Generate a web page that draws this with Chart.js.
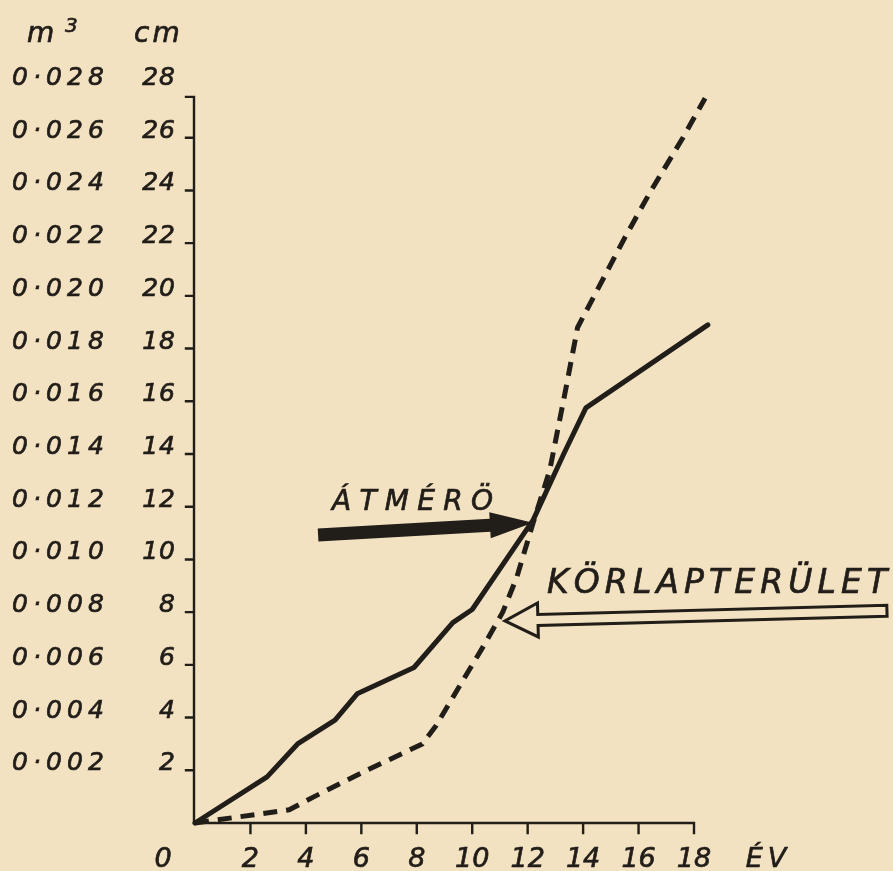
<!DOCTYPE html>
<html>
<head>
<meta charset="utf-8">
<script src="https://cdn.jsdelivr.net/npm/chart.js@4.4.1/dist/chart.umd.min.js"></script>
<style>
    html, body { margin: 0; padding: 0; background: #f3e2c1; }
    canvas { display: block; }
</style>
</head>
<body>
<canvas id="chart" width="893" height="871"></canvas>
<script>
// Átmérő (cm) by age (év)
const diamYears = [0, 2.6, 3.7, 5.05, 5.85, 7.9, 9.3, 10.0, 12.2, 13.3, 14.1, 18.5];
const diamCm    = [0, 1.75, 3.0, 3.9, 4.9, 5.9, 7.6, 8.1, 11.5, 14.0, 15.75, 18.9];

// Körlapterület (m3) by age (év)
const areaYears = [0, 3.4, 4.3, 6.2, 8.2, 8.7, 9.6, 10.4, 11.1, 11.6, 12.2, 12.8, 13.4, 13.8, 14.5, 15.5, 16.4, 17.6, 18.4];
const areaM3    = [0, 0.0005, 0.0010, 0.0020, 0.0030, 0.0037, 0.0053, 0.0067, 0.0080, 0.0093, 0.0114, 0.0134, 0.0166, 0.0188, 0.0202, 0.0222, 0.0239, 0.0260, 0.0275];

const xTicks  = [2, 4, 6, 8, 10, 12, 14, 16, 18];
const cmTicks = [2, 4, 6, 8, 10, 12, 14, 16, 18, 20, 22, 24, 26, 28];
const m3Ticks = ['0·002', '0·004', '0·006', '0·008', '0·010', '0·012', '0·014',
                 '0·016', '0·018', '0·020', '0·022', '0·024', '0·026', '0·028'];

const INK = '#211d19';
const PAPER = '#f3e2c1';
const FONT = '"DejaVu Sans", sans-serif';
const Y_AXIS_TOP = 27.55;

// draws text letter by letter so the spacing can be stretched like the hand lettering
function spacedText(ctx, text, x, y, opts) {
    const chars = Array.from(text);
    const widths = chars.map(c => ctx.measureText(c).width);
    const natural = widths.reduce((a, b) => a + b, 0);
    let gap = opts.gap || 0;
    if (opts.width) gap = (opts.width - natural) / Math.max(chars.length - 1, 1);
    const total = natural + gap * (chars.length - 1);
    let cx = x;
    if (opts.align === 'right') cx = x - total;
    if (opts.align === 'center') cx = x - total / 2;
    ctx.textAlign = 'left';
    ctx.lineWidth = opts.weight || 0.7;
    ctx.strokeStyle = ctx.fillStyle;
    chars.forEach((c, i) => {
        ctx.fillText(c, cx, y);
        ctx.strokeText(c, cx, y);
        cx += widths[i] + gap;
    });
}

function arrowPath(ctx, x1, y1, x2, y2, shaftHalf, headLen, headHalf) {
    const ang = Math.atan2(y2 - y1, x2 - x1);
    const len = Math.hypot(x2 - x1, y2 - y1);
    ctx.save();
    ctx.translate(x1, y1);
    ctx.rotate(ang);
    ctx.beginPath();
    ctx.moveTo(0, -shaftHalf);
    ctx.lineTo(len - headLen, -shaftHalf);
    ctx.lineTo(len - headLen, -headHalf);
    ctx.lineTo(len, 0);
    ctx.lineTo(len - headLen, headHalf);
    ctx.lineTo(len - headLen, shaftHalf);
    ctx.lineTo(0, shaftHalf);
    ctx.closePath();
    ctx.restore();
}

const handAxes = {
    id: 'handAxes',
    beforeDatasetsDraw(chart) {
        const { ctx, chartArea, scales } = chart;
        const xs = scales.x, ys = scales.y;
        const x0 = xs.getPixelForValue(0) - 1;
        const y0 = ys.getPixelForValue(0);
        ctx.save();
        ctx.strokeStyle = INK;
        ctx.fillStyle = INK;
        ctx.lineWidth = 2.4;
        ctx.lineCap = 'square';

        // vertical axis with ticks pointing left
        const yTop = ys.getPixelForValue(Y_AXIS_TOP);
        ctx.beginPath();
        ctx.moveTo(x0, y0);
        ctx.lineTo(x0, yTop);
        ctx.lineTo(x0 - 8, yTop);
        cmTicks.filter(v => v < Y_AXIS_TOP).forEach(v => {
            const py = ys.getPixelForValue(v);
            ctx.moveTo(x0, py);
            ctx.lineTo(x0 - 8, py);
        });
        // horizontal axis with ticks pointing down
        const xEnd = xs.getPixelForValue(18);
        ctx.moveTo(x0, y0);
        ctx.lineTo(xEnd, y0);
        xTicks.forEach(v => {
            const px = xs.getPixelForValue(v);
            ctx.moveTo(px, y0);
            ctx.lineTo(px, y0 + 10);
        });
        ctx.stroke();

        // tick labels
        ctx.textBaseline = 'alphabetic';
        ctx.font = `italic 25px ${FONT}`;
        cmTicks.forEach((v, i) => {
            const py = ys.getPixelForValue(v);
            spacedText(ctx, String(v), chartArea.left - 20, py, { gap: 1, align: 'right' });
            spacedText(ctx, m3Ticks[i], 12, py, { width: 92 });
        });

        ctx.font = `italic 27px ${FONT}`;
        xTicks.forEach(v => {
            spacedText(ctx, String(v), xs.getPixelForValue(v), y0 + 44, { gap: 0, align: 'center' });
        });
        spacedText(ctx, '0', xs.getPixelForValue(-1.15), y0 + 44, { align: 'center' });
        spacedText(ctx, 'ÉV', xs.getPixelForValue(20.6), y0 + 44, { gap: 5, align: 'center' });

        // unit headers
        ctx.font = `italic 28px ${FONT}`;
        spacedText(ctx, 'm', 27, 42, {});
        spacedText(ctx, 'cm', 134, 42, { gap: 3 });
        ctx.font = `italic 20px ${FONT}`;
        spacedText(ctx, '3', 65, 32, {});
        ctx.restore();
    },
    afterDatasetsDraw(chart) {
        const { ctx, scales } = chart;
        const px = v => scales.x.getPixelForValue(v);
        const py = v => scales.y.getPixelForValue(v);
        ctx.save();

        // ÁTMÉRÖ label and solid arrow
        ctx.fillStyle = INK;
        ctx.font = `italic 28px ${FONT}`;
        spacedText(ctx, 'ÁTMÉRÖ', px(4.94), py(11.88), { width: 161 });
        arrowPath(ctx, px(4.44), py(10.93), px(12.19), py(11.39), 6.5, 43, 13);
        ctx.fill();

        // KÖRLAPTERÜLET label and hollow arrow
        ctx.font = `italic 33px ${FONT}`;
        spacedText(ctx, 'KÖRLAPTERÜLET', px(12.7), py(8.73), { width: 340 });
        arrowPath(ctx, px(24.96), py(8.05), px(11.18), py(7.67), 5.5, 33, 17);
        ctx.fillStyle = PAPER;
        ctx.fill();
        ctx.strokeStyle = INK;
        ctx.lineWidth = 3;
        ctx.lineJoin = 'miter';
        ctx.stroke();
        ctx.restore();
    }
};

const ctx = document.getElementById('chart').getContext('2d');
new Chart(ctx, {
    type: 'line',
    data: {
        datasets: [
            {
                label: 'ÁTMÉRŐ',
                data: diamYears.map((x, i) => ({ x, y: diamCm[i] })),
                yAxisID: 'y',
                borderColor: INK,
                borderWidth: 5,
                pointRadius: 0,
                tension: 0,
                fill: false,
                clip: false,
                borderJoinStyle: 'round',
                borderCapStyle: 'round'
            },
            {
                label: 'KÖRLAPTERÜLET',
                data: areaYears.map((x, i) => ({ x, y: areaM3[i] })),
                yAxisID: 'yM',
                borderColor: INK,
                borderWidth: 5,
                borderDash: [14, 9],
                pointRadius: 0,
                tension: 0,
                fill: false,
                clip: false,
                borderJoinStyle: 'round',
                borderCapStyle: 'butt'
            }
        ]
    },
    options: {
        responsive: false,
        animation: false,
        events: [],
        layout: { padding: { left: 195, right: 199, top: 85, bottom: 48 } },
        plugins: {
            legend: { display: false },
            tooltip: { enabled: false }
        },
        scales: {
            x: { type: 'linear', min: 0, max: 18, display: false },
            y: { type: 'linear', min: 0, max: 28, display: false },
            yM: { type: 'linear', min: 0, max: 0.028, display: false }
        }
    },
    plugins: [handAxes]
});
</script>
</body>
</html>
